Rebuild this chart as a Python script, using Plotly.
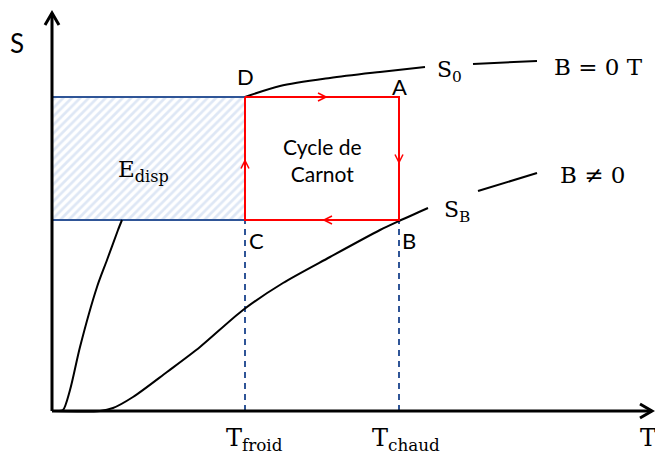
import plotly.graph_objects as go

# Diagram units: T to the right, S upward, origin at the axes corner
T_FROID = 193
T_CHAUD = 347
S_LOW = 191
S_HIGH = 314
T_MAX = 600
S_MAX = 398

# S0 curve (B = 0 T), low part (below E_disp) and high part (after D)
s0_low_t = [0, 6, 11, 18, 28, 45, 55, 66, 70]
s0_low_s = [0, 0, 1, 21, 64, 124, 151, 181, 191]
s0_high_t = [193, 228, 278, 328, 373]
s0_high_s = [314, 325, 333, 339, 344]
s0_leader_t = [421, 485]
s0_leader_s = [347, 350]

# SB curve (B != 0)
sb_t = [0, 48, 61, 81, 115, 148, 191, 231, 278, 328, 347, 376]
sb_s = [0, 0, 3, 14, 39, 64, 101, 128, 154, 181, 190, 203]
sb_leader_t = [426, 485]
sb_leader_s = [220, 238]

BLACK = "#000000"
RED = "#ff0000"
BLUE = "#2f5597"
HATCH = "#bdd0ec"
SANS = "Lato"
SERIF = "DejaVu Serif"


def chevron(x, y, dx, dy, length, half):
    # open arrowhead with its tip at (x, y) pointing along (dx, dy)
    bx, by = x - dx * length, y - dy * length
    px, py = -dy * half, dx * half
    return [bx + px, x, bx - px], [by + py, y, by - py]


fig = go.Figure()

# E_disp hatched area
fig.add_trace(go.Scatter(
    x=[0, T_FROID, T_FROID, 0, 0],
    y=[S_LOW, S_LOW, S_HIGH, S_HIGH, S_LOW],
    mode="lines", fill="toself",
    fillcolor="white",
    fillpattern=dict(shape="/", fgcolor=HATCH, bgcolor="white", size=6, solidity=0.45),
    line=dict(color=BLUE, width=2),
    hoverinfo="skip",
))

# dashed temperature guides
for t in (T_FROID, T_CHAUD):
    fig.add_trace(go.Scatter(x=[t, t], y=[0, S_LOW], mode="lines",
                             line=dict(color=BLUE, width=2, dash="6px,5px"), hoverinfo="skip"))

# curves
for xs, ys in ((s0_low_t, s0_low_s), (s0_high_t, s0_high_s), (s0_leader_t, s0_leader_s),
               (sb_t, sb_s), (sb_leader_t, sb_leader_s)):
    fig.add_trace(go.Scatter(x=xs, y=ys, mode="lines", line=dict(color=BLACK, width=2, shape="spline", smoothing=0.8),
                             hoverinfo="skip"))

# Carnot cycle
fig.add_trace(go.Scatter(
    x=[T_FROID, T_CHAUD, T_CHAUD, T_FROID, T_FROID],
    y=[S_HIGH, S_HIGH, S_LOW, S_LOW, S_HIGH],
    mode="lines", line=dict(color=RED, width=2), hoverinfo="skip",
))
mid_t = (T_FROID + T_CHAUD) / 2
mid_s = (S_LOW + S_HIGH) / 2
for (x, y, dx, dy) in ((mid_t + 4, S_HIGH, 1, 0), (T_CHAUD, mid_s - 4, 0, -1),
                       (mid_t + 2, S_LOW, -1, 0), (T_FROID, mid_s - 2, 0, 1)):
    cx, cy = chevron(x, y, dx, dy, 8, 4)
    fig.add_trace(go.Scatter(x=cx, y=cy, mode="lines", line=dict(color=RED, width=1.5), hoverinfo="skip"))

# axes with arrows
fig.add_trace(go.Scatter(x=[0, 0], y=[0, S_MAX], mode="lines", line=dict(color=BLACK, width=3), hoverinfo="skip"))
fig.add_trace(go.Scatter(x=[0, T_MAX], y=[0, 0], mode="lines", line=dict(color=BLACK, width=3), hoverinfo="skip"))
cx, cy = chevron(0, S_MAX, 0, 1, 12, 7)
fig.add_trace(go.Scatter(x=cx, y=cy, mode="lines", line=dict(color=BLACK, width=3), hoverinfo="skip"))
cx, cy = chevron(T_MAX, 0, 1, 0, 12, 7)
fig.add_trace(go.Scatter(x=cx, y=cy, mode="lines", line=dict(color=BLACK, width=3), hoverinfo="skip"))

labels = [
    ("S", -35, 368, SANS, 26),
    ("T", 596, -27, SERIF, 24),
    ("D", 193, 335, SANS, 22),
    ("A", 347, 325, SANS, 22),
    ("C", 204, 171, SANS, 22),
    ("B", 357, 171, SANS, 22),
    ("Cycle de<br>Carnot", 270, 251, SANS, 21),
    ("E<sub>disp</sub>", 91, 240, SERIF, 23),
    ("S<sub>0</sub>", 397, 340, SERIF, 22),
    ("S<sub>B</sub>", 405, 200, SERIF, 22),
    ("B = 0 T", 546, 344, SERIF, 23),
    ("B \u2260 0", 540, 236, SERIF, 23),
    ("T<sub>froid</sub>", 202, -28, SERIF, 24),
    ("T<sub>chaud</sub>", 354, -28, SERIF, 24),
]
for text, x, y, family, size in labels:
    fig.add_annotation(x=x, y=y, text=text, showarrow=False,
                       font=dict(family=family, size=size, color=BLACK))

fig.update_layout(
    width=655, height=457,
    margin=dict(l=0, r=0, t=0, b=0),
    paper_bgcolor="white", plot_bgcolor="white",
    showlegend=False,
    xaxis=dict(range=[-52, 603], visible=False, fixedrange=True),
    yaxis=dict(range=[-46, 411], visible=False, fixedrange=True),
)

fig.write_html("out.html", config={"displayModeBar": False},
               post_script="document.body.style.margin='0';document.body.style.overflow='hidden';")
